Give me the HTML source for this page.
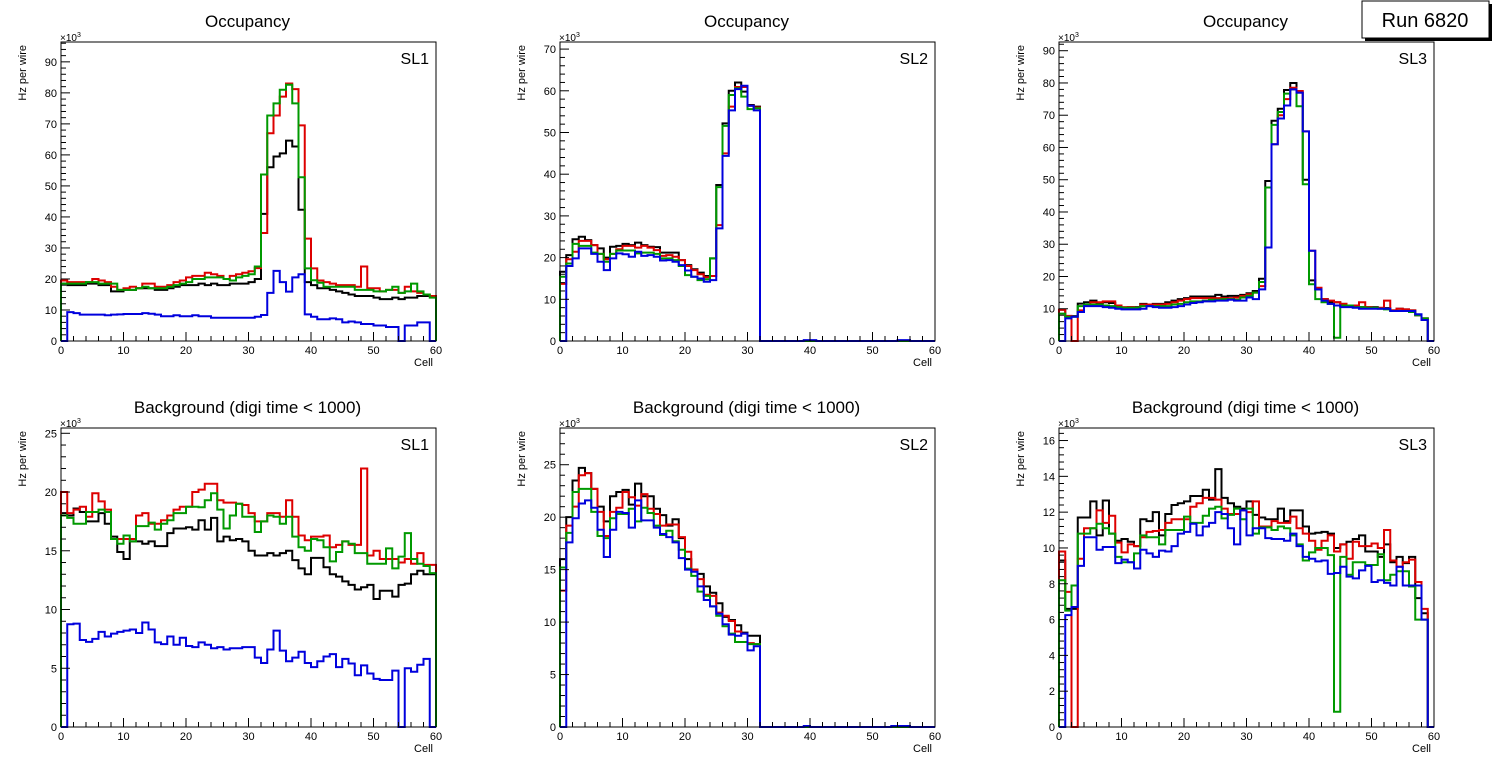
<!DOCTYPE html>
<html><head><meta charset="utf-8">
<style>
html,body{margin:0;padding:0;background:#fff;}
svg{display:block;font-family:"Liberation Sans",Arial,sans-serif;}
</style></head>
<body>
<svg id="root" width="1496" height="772" viewBox="0 0 1496 772">
<rect width="1496" height="772" fill="#fff"/>
<g>
<rect x="1365" y="4" width="127" height="37" fill="#000"/>
<rect x="1362" y="1" width="127" height="37" fill="#fff" stroke="#000" stroke-width="1"/>
<text x="1425" y="27" font-size="20" text-anchor="middle">Run 6820</text>
</g>
</svg>
<script>
// ---- data (values in units of 10^3 Hz per wire), 60 bins per series ----
const binEdges = [0, 60];
const xTickLabels = ["0","10","20","30","40","50","60"];

const occSL1Black = [18.5,18,18,18,18.5,18.5,18,18,16,16, 16.5,16.5,17,17,17,16.5,16.5,17,17.5,18, 18,18,18.5,18,18.5,18,18,18.5,18.5,18.5, 19,20,41,56,59.5,60.5,64.6,62.7,42.3,19, 18,17,17,16.5,16,15.5,15,14.5,14.5,14.5, 14,13.5,13.5,14,13.5,14,14,14.5,14.5,14.5];
const occSL1Red = [19.5,19,19,19,19,20,19.5,19,17.5,16.5, 17,17.5,17,18.5,18.5,17.5,17.5,18,19,19.5, 20.5,21,21,22,21.5,21,20,21,21.5,22, 22.5,23.5,34.8,67,72.7,78.8,83,81.2,69.5,33, 23.4,19.5,19,18.5,18,18,18,17.5,24,17, 17,16,16.5,16.5,15.5,17.5,16,15.5,15,14.5];
const occSL1Green = [18.5,18.5,18.5,18.5,19,19,18.5,18.5,18.5,16.5, 16.5,16.5,17,17.5,17,17,17,17.5,18,18.5, 19,20,20,20.5,20.5,20.5,20,19.5,20.5,21, 21.5,24,53.7,72.7,76.6,81,82.6,76.6,52.8,23.4, 19.6,18.8,17.5,17.5,17.5,17.5,17.5,16.5,16.5,16.5, 16,16,16.5,17.5,15.5,16,18.5,16,15,14];
const occSL1Blue = [0,9.3,9,8.5,8.5,8.5,8.5,8.3,8.5,8.6, 8.7,8.7,8.7,9,8.8,8.5,8,8,8.3,8, 8,8.3,8,8,7.5,7.5,7.5,7.5,7.5,7.5, 7.5,7.8,8.4,15.5,22.6,19,15.9,20.5,21.5,8.6, 7.8,7,7,7.3,7,6,6.3,6,5.5,5.5, 5,5,4.5,4.5,0,5,5,6,6,0];

const occSL2Black = [16.6,20.6,24.4,25,24.2,23,22.2,20,22.6,22.8, 23.3,23,23.6,23,22.6,22.5,21.2,21.2,21.2,19.4, 18.2,17.2,16.4,15.6,19.8,37.4,52.2,60,62,59.8, 56.6,56.2,0,0,0,0,0,0,0,0, 0,0,0,0,0,0,0,0,0,0, 0,0,0,0,0,0,0,0,0,0];
const occSL2Red = [13.7,19.6,21.4,24,24,23,20.9,19.6,20.9,22, 22.8,22.8,22.4,22.8,22.4,21.8,20.4,20.6,20.2,19.4, 18,17,16,15.3,15.6,27.8,45,56.2,60.9,60.9, 56.4,56,0,0,0,0,0,0,0,0, 0,0,0,0,0,0,0,0,0,0, 0,0,0,0,0,0,0,0,0,0];
const occSL2Green = [15.4,18.6,23.3,22.8,22.8,21.2,20.9,19,20.9,21.7, 21.7,21.7,21,21.2,21.2,20.9,19.8,19.8,19.4,18, 15.8,15.4,14.6,14.8,19.8,36.9,51.6,59,60.6,58.6, 55.6,55.8,0,0,0,0,0,0,0,0, 0,0,0,0,0,0,0,0,0,0, 0,0,0,0,0,0,0,0,0,0];
const occSL2Blue = [0,18,19.8,22.2,22.2,20.9,19,17,19.8,21, 20.8,20.2,21.4,20.4,20.6,20.2,19.3,19.4,19,18.2, 16.9,15.4,15,14.2,14.6,27,44.4,55.3,60.4,61.2, 56.4,55.3,0,0,0,0,0,0,0,0.2, 0.2,0,0,0,0,0,0,0,0,0, 0,0,0,0,0.2,0.2,0,0,0,0];

const occSL3Black = [9.7,7.7,7.7,11.6,12,12.5,11.8,12,11.8,10.8, 10.3,10.5,10.5,11.5,11.3,11.5,11.5,12,12.5,13, 13.3,13.8,13.8,13.8,13.8,14.3,13.8,14,14,14.3, 14.8,15.5,19.3,49.6,68.3,72,77.8,80,77,50, 18.8,16,13,12,12,11.5,11,10.5,10.5,10.5, 10.5,10.2,10.2,9.5,10,9.8,9.5,8,7,0];
const occSL3Red = [9.7,7.8,0,9.5,11,12,12,12.3,12.3,11, 10.5,10.5,10.3,11.3,11.3,11.3,11.3,11.5,12,12.5, 13,13.3,13.3,13.3,13.3,13.3,13.3,13.3,13.5,14, 14.5,15,17,29,61,70,75,78.5,77.5,65, 28,16.5,13,12.5,12,11.5,11,11,12,10.5, 10.3,10.3,12.5,9.5,10,9.8,9.5,8,7,0];
const occSL3Green = [8.5,7.5,7.5,10.8,11.3,11.3,11.3,11,10.8,10.5, 10.3,10.3,10.3,10.8,10.8,10.8,10.8,10.8,11.3,11.5, 12,12.3,12.3,12.5,12.8,12.8,13,13,12.8,13.5, 14,15,18.3,47.6,67,71,76.7,78,72.8,48.6, 17.6,13,12,11.5,1,11,11,10.5,10.5,10.3, 10.3,10,9.8,9.3,9.3,9.3,9,8,7,0];
const occSL3Blue = [0,7,7.5,9,10.8,10.8,10.8,10.5,10.3,10, 9.8,9.8,9.8,10,10.8,10.5,10.3,10.3,10.5,10.8, 11.3,11.8,12,12.3,12.3,12.5,12.5,12.8,12.5,12.5, 13.5,13,16,29,61,69,73,78,77,65, 28,16,12.5,11.5,11,10.5,10.5,10.3,10,10, 10,10,10,9.3,9.3,9.3,9.3,8.3,6.5,0];

const bkgSL1Black = [18.2,18,18.6,18.3,17.5,17.5,18.2,17.3,16.2,14.9, 14.3,15.8,15.8,15.6,15.8,15.4,15.4,16.5,16.9,16.9, 17,16.8,17.6,16.8,17.8,15.8,16.2,15.9,16,15.8, 15,14.6,14.6,14.8,14.6,14.8,15,14.2,13.5,13, 14.4,14.4,13.6,13,12.8,12.4,12.1,11.7,11.9,12.1, 10.9,11.6,11.6,11.1,12.1,12.2,13,13.3,13,13];
const bkgSL1Red = [20,18.2,18.5,18.75,17.9,19.9,19.2,18.5,16,16, 16,16,18,18.2,17.3,17.3,17.6,18,18.5,18.75, 18.75,20,20.2,20.7,20.7,19.3,19.1,19.1,19,18.9, 18.2,17.5,17.5,18.2,18.2,17.9,19.3,17.9,16.3,15.9, 16.2,16.2,16.3,15.3,15.5,15.8,15.5,15.5,22,14.6, 15,14.3,14.3,14.3,14,14.3,13.9,14.8,13.8,13.8];
const bkgSL1Green = [18,17.8,17.3,17.3,18.3,18.3,18.5,18.3,16,15.6, 16.3,15.8,17.1,17.1,17.4,16.8,17.3,17.6,18.2,18.2, 18.75,18.75,18.7,19.3,19.9,18.5,16.9,18,19,17.9, 17.9,16.6,17.5,18,17.9,17.3,17.9,16.2,15.3,15, 16,15.9,15.3,14.1,14.9,15.8,15.6,14.8,14.8,13.9, 13.9,13.9,15.2,13.5,14.5,16.5,14.3,13.9,13.7,13.1];
const bkgSL1Blue = [0,8.75,8.8,7.4,7.25,7.5,8.1,7.7,7.95,8.1, 8.2,8.3,8,8.9,8.3,7.2,7.05,7.7,7,7.6, 6.9,6.8,7.2,7,6.7,6.8,6.6,6.7,6.7,6.8, 6.8,5.9,5.45,6.6,8.2,6.5,5.6,5.9,6.4,5.45, 5.1,5.6,6,6.2,5.1,5.8,5.4,4.4,5.25,4.55, 4.1,4,4,4.8,0,5,4.7,5.3,5.8,0];

const bkgSL2Black = [16,20,23.5,24.7,24.2,22.7,21,19.6,22,22.4, 22.6,21.2,23.2,22,22,20.8,20.2,19.2,19.8,18, 16,15,14.6,13.4,12.8,11.8,10.5,10.2,9.7,9, 8.7,8.7,0,0,0,0,0,0,0,0, 0,0,0,0,0,0,0,0,0,0, 0,0,0,0,0,0,0,0,0,0];
const bkgSL2Red = [13,19.2,21,24,24.2,22.7,20.5,18.2,20.5,20.9, 22.4,21.9,21.1,22.2,20.8,20.3,19.2,19.3,19.3,18.1, 16.7,15,14.1,12.6,12.5,10.9,10.6,10.1,9.1,8.9, 8,7.9,0,0,0,0,0,0,0,0, 0,0,0,0,0,0,0,0,0,0, 0,0,0,0,0,0,0,0,0,0];
const bkgSL2Green = [15.2,18.5,22.4,22.7,22.7,20.5,18.2,18,19.9,20.3, 20.3,20.8,19.6,20.9,20.4,19.2,18.3,18.7,17.7,16.9, 15.1,14.4,12.9,12.5,11.5,10.6,9.6,8.9,8.1,8.1, 7.9,7.9,0,0,0,0,0,0,0,0, 0,0,0,0,0,0,0,0,0,0, 0,0,0,0,0,0,0,0,0,0];
const bkgSL2Blue = [0,17.6,19.9,21.3,21.6,20.9,18.8,16.2,18.8,20.5, 20.4,19,21.6,19.7,19.7,19,18.4,18.1,17.6,16.1, 15,14.8,13.4,12.1,11.5,10.8,9.8,8.8,8.7,8.9, 7.3,7.7,0,0,0,0,0,0,0,0.1, 0,0,0,0,0,0,0,0,0,0, 0,0,0,0.1,0.1,0.1,0,0,0,0];

const bkgSL3Black = [9.3,6.6,6.6,11.7,11.7,12.6,10.7,12.65,10.8,10.4, 10.5,10.35,10.1,11.6,11.5,12,10.7,11.9,12.4,12.5, 12.6,12.9,12.9,13.25,12.7,14.4,12.8,12.5,12.3,12.2, 12.6,11.85,11.7,11.6,11.6,12.2,11.5,12.1,12.1,11.2, 10.8,10.85,10.9,10.8,10,10.2,10.35,10.5,10.7,9.8, 9.8,9.5,10.2,9.2,9.5,9.15,9.5,7.2,6.35,0];
const bkgSL3Red = [9.8,7.55,0,9.4,11.1,11.1,12.1,11.4,11.8,10.3, 9.75,10.2,10.1,10.6,10.9,10.95,11,11.4,11.6,11.6, 11.6,12.3,12.5,12.8,12.8,12.7,12.2,11.9,11.9,12.1, 12,12.6,11.2,11.2,11.5,11.4,11.4,11.75,11.1,10.8, 10.4,9.9,10.4,10.7,9.8,10.2,9.4,10.35,10.1,10.1, 10.25,10,11,9.3,8.95,9.2,9.35,8.1,6.6,0];
const bkgSL3Green = [8.2,6.5,7.9,10.8,10.8,11.1,11.35,11.1,10.8,9.5, 9.2,9.2,9.7,10.7,10.6,10.6,10.2,11,11,11, 11.75,11.4,11.4,11.8,12.2,12.3,11.65,11.85,12.2,11.6, 12.2,10.8,11.15,11.15,11,11.2,11.1,10.7,10.2,9.3, 9.75,10,10,9.6,0.85,9.5,8.5,9.2,9.2,9.05, 9.05,9.65,8.2,8.5,8.7,8.7,7.85,6,6,0];
const bkgSL3Blue = [0,6.25,6.7,9,10.6,10.6,9.9,10.05,10.05,9.15, 9.35,9.2,8.85,9.9,9.7,9.5,9.85,9.8,10.1,10.8, 10.9,11.35,10.7,11.2,11.4,12,11.9,11.1,10.2,12.1, 10.7,11.1,11.1,10.55,10.5,10.5,10.4,10.8,10.1,9.5, 9.4,9.25,9.3,8.55,8.6,8.95,8.4,8.3,8.75,9, 8.1,8.2,8.05,7.9,8.95,7.9,7.9,7.9,6,0];

const panelTitles = ["Occupancy","Occupancy","Occupancy","Background (digi time < 1000)","Background (digi time < 1000)","Background (digi time < 1000)"];
const panelLabels = ["SL1","SL2","SL3","SL1","SL2","SL3"];
const yMaxes = [96.4, 71.7, 92.7, 25.45, 28.5, 16.7];
const yMajorSteps = [10, 10, 10, 5, 5, 2];
const panelSeries = [
  [occSL1Black, occSL1Red, occSL1Green, occSL1Blue],
  [occSL2Black, occSL2Red, occSL2Green, occSL2Blue],
  [occSL3Black, occSL3Red, occSL3Green, occSL3Blue],
  [bkgSL1Black, bkgSL1Red, bkgSL1Green, bkgSL1Blue],
  [bkgSL2Black, bkgSL2Red, bkgSL2Green, bkgSL2Blue],
  [bkgSL3Black, bkgSL3Red, bkgSL3Green, bkgSL3Blue]
];
const seriesNames = ["black","red","green","blue"];

// ---- drawing ----
const NS = "http://www.w3.org/2000/svg";
const root = document.getElementById("root");
const colors = ["#000000","#dd0000","#009900","#0000dd"];
const lefts = [61, 560, 1059];
const tops = [42, 428];
const W = 375, H = 299;

function mk(tag, attrs, parent) {
  const e = document.createElementNS(NS, tag);
  for (const k in attrs) e.setAttribute(k, attrs[k]);
  parent.appendChild(e);
  return e;
}

function fmt(v) { return (Math.round(v * 100) / 100).toString(); }

for (let p = 0; p < 6; p++) {
  const L = lefts[p % 3], T = tops[Math.floor(p / 3)];
  const ymax = yMaxes[p];
  const xS = v => L + (v - binEdges[0]) / (binEdges[1] - binEdges[0]) * W;
  const yS = v => T + H - v / ymax * H;

  const g = mk("g", {}, root);
  
  

  const title = mk("text", {x: L + W / 2 - 1, y: T - 15, "font-size": 17, "text-anchor": "middle"}, g);
  title.textContent = panelTitles[p];
  
  

  // series
  const nb = panelSeries[p][0].length;
  const bw = (binEdges[1] - binEdges[0]) / nb;
  panelSeries[p].forEach((arr, si) => {
    let d = "M" + fmt(xS(0)) + "," + fmt(yS(0));
    for (let i = 0; i < arr.length; i++) {
      d += " V" + fmt(yS(arr[i])) + " H" + fmt(xS((i + 1) * bw));
    }
    d += " V" + fmt(yS(0));
    const path = mk("path", {d: d, fill: "none", stroke: colors[si], "stroke-width": 2, "stroke-linejoin": "miter"}, g);
    
    
  });

  // frame
  const frame = mk("rect", {x: L, y: T, width: W, height: H, fill: "none", stroke: "#000", "stroke-width": 1}, g);
  
  

  // x axis ticks
  const xax = mk("g", {}, g);
  
  
  for (let v = 0; v <= 60; v += 2) {
    const major = v % 10 === 0;
    mk("line", {x1: xS(v), x2: xS(v), y1: T + H, y2: T + H - (major ? 9 : 5), stroke: "#000", "stroke-width": 1}, xax);
  }
  xTickLabels.forEach((lab, i) => {
    const t = mk("text", {x: xS(i * 10), y: T + H + 13, "font-size": 11, "text-anchor": "middle"}, xax);
    t.textContent = lab;
  });
  const xt = mk("text", {x: L + W - 3, y: T + H + 25, "font-size": 11, "text-anchor": "end"}, xax);
  xt.textContent = "Cell";
  
  

  // y axis ticks
  const yax = mk("g", {}, g);
  
  
  const maj = yMajorSteps[p], mn = maj / 5;
  for (let k = 0; k * mn <= ymax + 1e-9; k++) {
    const v = k * mn;
    const major = k % 5 === 0;
    mk("line", {x1: L, x2: L + (major ? 9 : 5), y1: yS(v), y2: yS(v), stroke: "#000", "stroke-width": 1}, yax);
    if (major) {
      const t = mk("text", {x: L - 4, y: yS(v) + 4, "font-size": 11, "text-anchor": "end"}, yax);
      t.textContent = fmt(v);
    }
  }
  const ex = mk("text", {x: L - 1, y: T - 1, "font-size": 10}, yax);
  ex.textContent = "\u00d710";
  const ex2 = mk("tspan", {dy: -4, "font-size": 7}, ex);
  ex2.textContent = "3";
  const yt = mk("text", {x: 0, y: 0, "font-size": 11, "text-anchor": "end", transform: "translate(" + (L - 35) + "," + (T + 3) + ") rotate(-90)"}, yax);
  yt.textContent = "Hz per wire";
  
  

  const sl = mk("text", {x: L + W - 7, y: T + 22, "font-size": 16, "text-anchor": "end"}, g);
  sl.textContent = panelLabels[p];
  
  
}
</script>
</body></html>
